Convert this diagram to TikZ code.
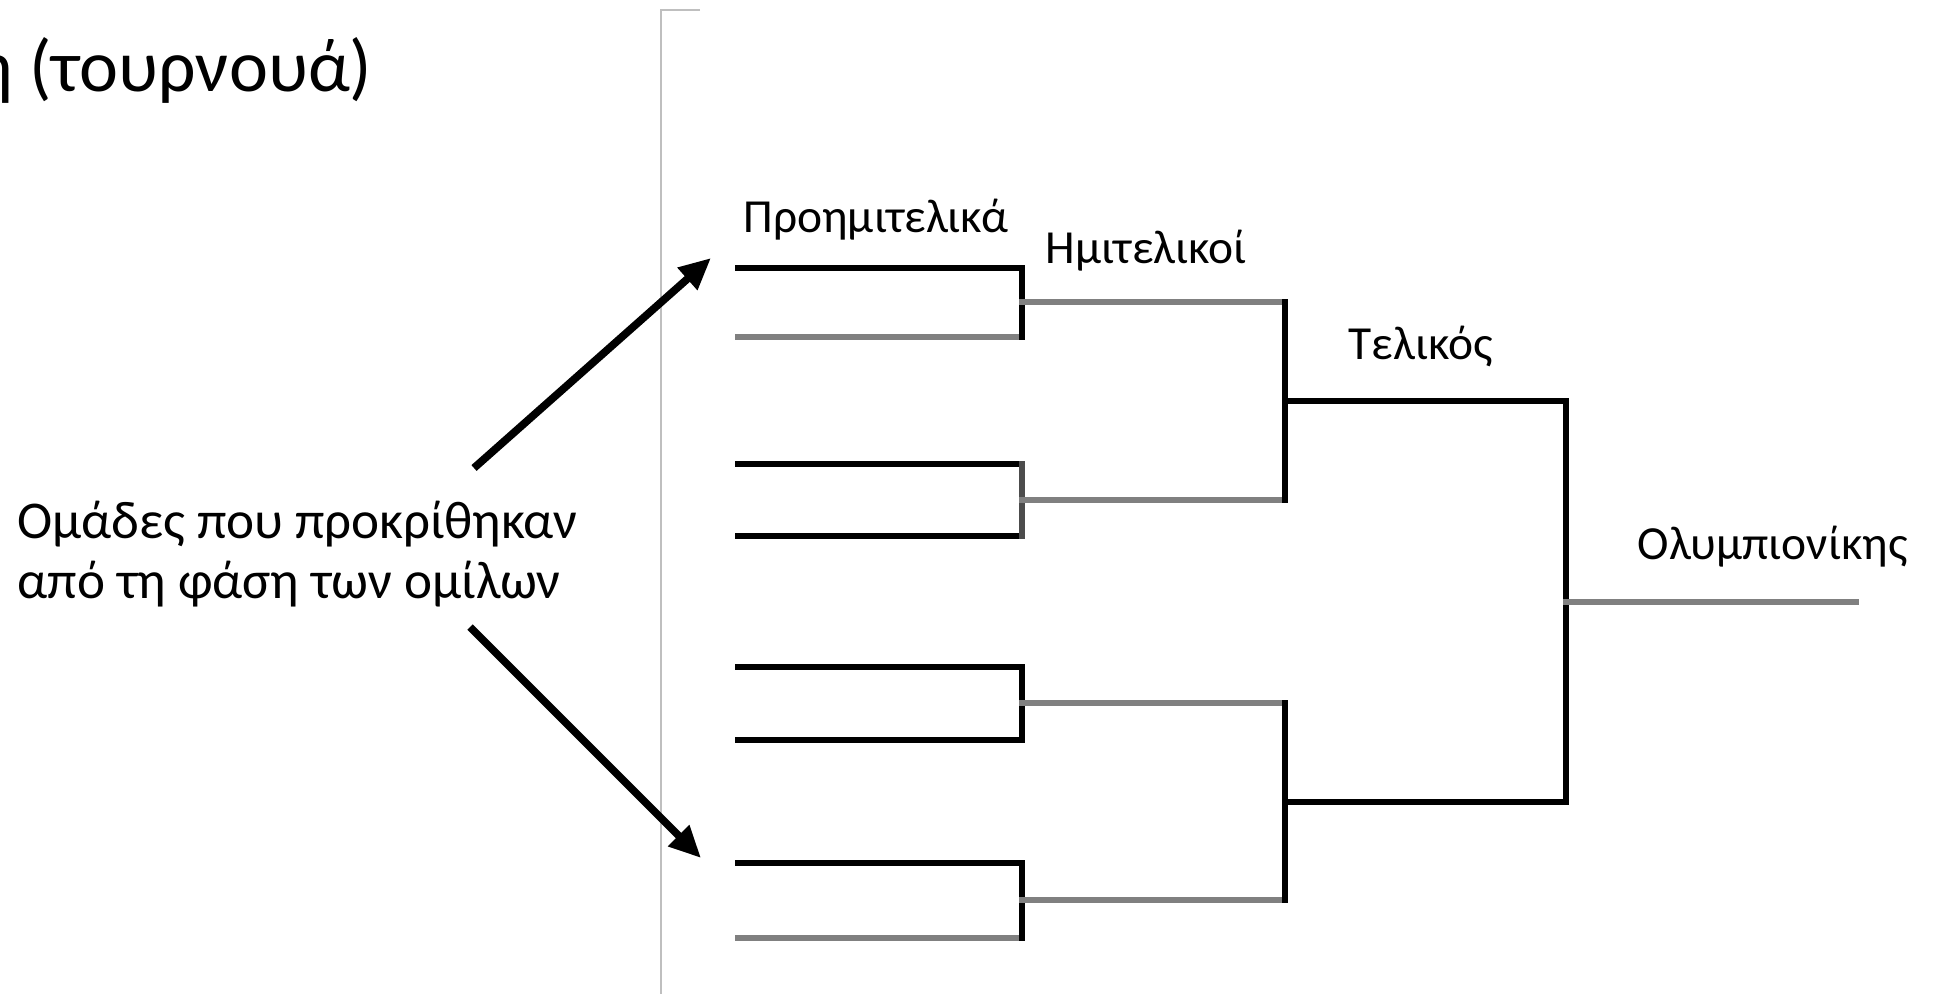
\documentclass[tikz,border=0pt]{standalone}
\usepackage{fontspec}
\setmainfont{Carlito}
\usetikzlibrary{arrows.meta}

\begin{document}
\begin{tikzpicture}[x=0.01cm, y=-0.01cm]
  \tikzset{
    lbl/.style={
      anchor=base west, inner sep=0pt, font=\fontsize{13.5}{16}\selectfont
    },
    blk/.style={
      draw, line width=1.5pt, line cap=rect, black
    },
    gry/.style={
      blk, black!50
    },
    dgry/.style={
      blk, black!70
    },
    arw/.style={
      draw, line width=2.2pt, -{Triangle[length=9pt, width=8pt]}
    }
  }
  \useasboundingbox (0,0) rectangle (1956,994);
  \clip (0,0) rectangle (1956,994);

  % edge of the pasted picture
  \draw [black!25, line width=0.4pt] (700,10) -- (661,10) -- (661,994);

  \node [anchor=base east, inner sep=0pt, font=\fontsize{21}{25}\selectfont] (title) at (373,92) {η (τουρνουά)};

  \node [anchor=west, align=left, inner sep=0pt, font=\fontsize{15.1}{17}\selectfont] (teams) at (17,554) {Ομάδες που προκρίθηκαν\\από τη φάση των ομίλων};

  \foreach \i/\y in {1/268, 2/337, 3/464, 4/536, 5/667, 6/740, 7/863, 8/938} {
    \coordinate (p\i) at (738, \y);
    \coordinate (e\i) at (1022, \y);
  }
  \foreach \i/\y in {1/302, 2/500, 3/703, 4/900} {
    \coordinate (q\i) at (1022, \y);
    \coordinate (r\i) at (1285, \y);
  }
  \foreach \i/\y in {1/401, 2/802} {
    \coordinate (s\i) at (1285, \y);
    \coordinate (f\i) at (1566, \y);
  }
  \coordinate (w1) at (1566, 602);
  \coordinate (w2) at (1856, 602);

  \foreach \i/\c in {1/blk, 2/gry, 3/blk, 4/blk, 5/blk, 6/blk, 7/blk, 8/gry} {
    \path [\c] (p\i) -- (e\i);
  }
  \foreach \i/\j/\c in {1/2/blk, 3/4/dgry, 5/6/blk, 7/8/blk} {
    \path [\c] (e\i) -- (e\j);
  }
  \foreach \i in {1, ..., 4} {
    \path [gry] (q\i) -- (r\i);
  }
  \path [blk] (r1) -- (r2);
  \path [blk] (r3) -- (r4);
  \foreach \i in {1, 2} {
    \path [blk] (s\i) -- (f\i);
  }
  \path [blk] (f1) -- (f2);
  \path [gry] (w1) -- (w2);

  \node [lbl] (qf) at (743,233) {Προημιτελικά};
  \node [lbl] (sf) at (1045,264) {Ημιτελικοί};
  \node [lbl] (fn) at (1348,360) {Τελικός};
  \node [lbl] (ch) at (1637,560) {Ολυμπιονίκης};

  \coordinate (a1) at (474,468);
  \coordinate (a2) at (711,258);
  \coordinate (b1) at (470,627);
  \coordinate (b2) at (701,858);
  \path [arw] (a1) -- (a2);
  \path [arw] (b1) -- (b2);
\end{tikzpicture}
\end{document}
